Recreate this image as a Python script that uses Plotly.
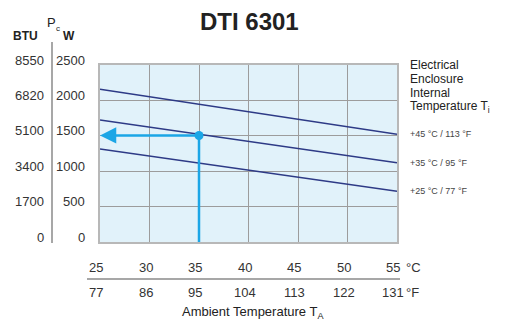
import plotly.graph_objects as go

# ---- data ----
ambient_c = [25, 55]
curve_45 = [2157, 1521]
curve_35 = [1723, 1120]
curve_25 = [1314, 716]
curve_labels = ["+45 °C / 113 °F", "+35 °C / 95 °F", "+25 °C / 77 °F"]
op_x = 35
op_y = 1505
c_ticks = [25, 30, 35, 40, 45, 50, 55]
f_ticks = [77, 86, 95, 104, 113, 122, 131]
w_ticks = [0, 500, 1000, 1500, 2000, 2500]
btu_ticks = [0, 1700, 3400, 5100, 6820, 8550]

# ---- layout geometry (pixels) ----
W, H = 505, 321
L, R, T, B = 100, 397, 65, 242
PW, PH = R - L, B - T

def px(x):
    return (x - L) / PW

def py(y):
    return (B - y) / PH

FONT = "Liberation Sans, Arial, Helvetica, sans-serif"
TXT = "#333333"
NAVY = "#2d3a86"
CYAN = "#1ba6e6"

fig = go.Figure()
for vals in (curve_45, curve_35, curve_25):
    fig.add_trace(go.Scatter(x=ambient_c, y=vals, mode="lines",
                             line=dict(color=NAVY, width=1.4),
                             hoverinfo="skip", showlegend=False))
# vertical line from operating point to bottom
fig.add_trace(go.Scatter(x=[op_x, op_x], y=[op_y, 0], mode="lines",
                         line=dict(color=CYAN, width=2.5),
                         hoverinfo="skip", showlegend=False))
fig.add_trace(go.Scatter(x=[op_x], y=[op_y], mode="markers",
                         marker=dict(color=CYAN, size=9),
                         hoverinfo="skip", showlegend=False))

ann = []
# horizontal arrow
ann.append(dict(x=c_ticks[0], y=op_y, ax=op_x, ay=op_y, xref="x", yref="y",
                axref="x", ayref="y", showarrow=True, arrowhead=2,
                arrowsize=1.3, arrowwidth=2.5, arrowcolor=CYAN, text="",
                standoff=0, startstandoff=0))
# title
ann.append(dict(x=px(249), y=py(21), xref="paper", yref="paper",
                text="<b>DTI 6301</b>", showarrow=False,
                font=dict(family=FONT, size=24, color="#222222"),
                xanchor="center", yanchor="middle"))
# header for y axes
ann.append(dict(x=px(40), y=py(36), xref="paper", yref="paper", text="<b>BTU</b>",
                showarrow=False, xanchor="right", yanchor="middle",
                font=dict(family=FONT, size=12, color="#222222")))
ann.append(dict(x=px(51), y=py(23), xref="paper", yref="paper", text="P",
                showarrow=False, xanchor="center", yanchor="middle",
                font=dict(family=FONT, size=13, color="#222222")))
ann.append(dict(x=px(58), y=py(28), xref="paper", yref="paper", text="c",
                showarrow=False, xanchor="center", yanchor="middle",
                font=dict(family=FONT, size=8, color="#222222")))
ann.append(dict(x=px(61), y=py(36), xref="paper", yref="paper", text="<b>W</b>",
                showarrow=False, xanchor="left", yanchor="middle",
                font=dict(family=FONT, size=12, color="#222222")))
# y tick labels
for w, b in zip(w_ticks, btu_ticks):
    ann.append(dict(x=px(87), y=w, xref="paper", yref="y", text=str(w),
                    showarrow=False, xanchor="right", yanchor="middle", yshift=5,
                    font=dict(family=FONT, size=13, color=TXT)))
    ann.append(dict(x=px(46), y=w, xref="paper", yref="y", text=str(b),
                    showarrow=False, xanchor="right", yanchor="middle", yshift=5,
                    font=dict(family=FONT, size=13, color=TXT)))
# x tick labels
for c, f in zip(c_ticks, f_ticks):
    ann.append(dict(x=c, y=py(267), xref="x", yref="paper", text=str(c),
                    showarrow=False, xanchor="center", yanchor="middle", xshift=-4,
                    font=dict(family=FONT, size=13, color=TXT)))
    ann.append(dict(x=c, y=py(292), xref="x", yref="paper", text=str(f),
                    showarrow=False, xanchor="center", yanchor="middle", xshift=-4,
                    font=dict(family=FONT, size=13, color=TXT)))
ann.append(dict(x=px(404), y=py(267), xref="paper", yref="paper", text="°C",
                showarrow=False, xanchor="left", yanchor="middle",
                font=dict(family=FONT, size=13, color=TXT)))
ann.append(dict(x=px(404), y=py(292), xref="paper", yref="paper", text="°F",
                showarrow=False, xanchor="left", yanchor="middle",
                font=dict(family=FONT, size=13, color=TXT)))
ann.append(dict(x=px(253), y=py(312), xref="paper", yref="paper",
                text="Ambient Temperature T<sub>A</sub>", showarrow=False,
                xanchor="center", yanchor="middle",
                font=dict(family=FONT, size=13, color="#222222")))
# right legend title
for i, line in enumerate(["Electrical", "Enclosure", "Internal", "Temperature T<sub>i</sub>"]):
    ann.append(dict(x=px(408), y=py(65 + 14 * i), xref="paper", yref="paper",
                    text=line, showarrow=False, xanchor="left", yanchor="middle",
                    font=dict(family=FONT, size=12, color="#222222")))
# curve labels
for vals, lab in zip((curve_45, curve_35, curve_25), curve_labels):
    ann.append(dict(x=px(408), y=vals[-1], xref="paper", yref="y", text=lab,
                    showarrow=False, xanchor="left", yanchor="middle",
                    font=dict(family=FONT, size=9, color="#444444")))

shapes = [
    dict(type="line", xref="paper", yref="paper", x0=px(52), x1=px(52),
         y0=py(243), y1=py(42), line=dict(color="#8a8a8a", width=1.5)),
    dict(type="line", xref="paper", yref="paper", x0=px(87), x1=px(400),
         y0=py(279), y1=py(279), line=dict(color="#8a8a8a", width=1.5)),
]

fig.update_layout(
    width=W, height=H,
    margin=dict(l=L, r=W - R, t=T, b=H - B, pad=0),
    paper_bgcolor="white", plot_bgcolor="#e1f2fa",
    annotations=ann, shapes=shapes, showlegend=False,
    xaxis=dict(range=[25, 55], dtick=5, tick0=25, showticklabels=False,
               showgrid=True, gridcolor="#9c9c9c", gridwidth=1.3,
               showline=True, mirror=True, linecolor="#b8b8b8", linewidth=2,
               zeroline=False, ticks="", fixedrange=True),
    yaxis=dict(range=[0, 2500], dtick=500, tick0=0, showticklabels=False,
               showgrid=True, gridcolor="#9c9c9c", gridwidth=1.3,
               showline=True, mirror=True, linecolor="#b8b8b8", linewidth=2,
               zeroline=False, ticks="", fixedrange=True),
)

fig.write_html("out.html", config={"displayModeBar": False},
               post_script="document.body.style.margin='0';document.body.style.overflow='hidden';")
